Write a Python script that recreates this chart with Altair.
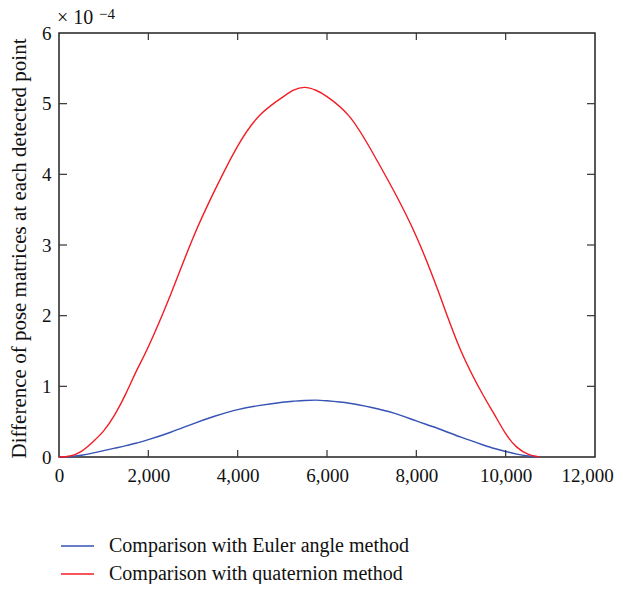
import altair as alt
import pandas as pd

# Data (values in units of 1e-4)
x_pts = [0, 250, 500, 750, 1000, 1250, 1500, 1750, 2000, 2500, 3000, 3500, 4000, 4500,
         5000, 5250, 5500, 5750, 6000, 6500, 7000, 7500, 8000, 8500, 9000, 9500, 9750,
         10000, 10250, 10500, 10750]
euler = [0, 0.006, 0.025, 0.055, 0.09, 0.125, 0.16, 0.2, 0.245, 0.35, 0.47, 0.58, 0.67, 0.73,
         0.775, 0.79, 0.80, 0.805, 0.795, 0.76, 0.70, 0.62, 0.51, 0.40, 0.28, 0.17, 0.12,
         0.078, 0.04, 0.015, 0]
quat = [0, 0.015, 0.08, 0.21, 0.37, 0.6, 0.9, 1.24, 1.56, 2.3, 3.1, 3.79, 4.40, 4.84,
        5.09, 5.19, 5.23, 5.19, 5.1, 4.82, 4.33, 3.76, 3.12, 2.33, 1.50, 0.87, 0.6,
        0.33, 0.14, 0.04, 0]

series_names = ["Comparison with Euler angle method", "Comparison with quaternion method"]
series_colors = ["#3552b4", "#f21c24"]

x_ticks = [0, 2000, 4000, 6000, 8000, 10000, 12000]
y_ticks = [0, 1, 2, 3, 4, 5, 6]

rows = []
for xv, e, q in zip(x_pts, euler, quat):
    rows.append({"x": xv, "y": e, "series": series_names[0]})
    rows.append({"x": xv, "y": q, "series": series_names[1]})
df = pd.DataFrame(rows)

FONT = "Liberation Serif"
W, H = 536, 424

xscale = alt.Scale(domain=[0, 12000], nice=False, zero=False)
yscale = alt.Scale(domain=[0, 6], nice=False)

xaxis = alt.Axis(values=x_ticks, format=",d", title="Detected points",
                 ticks=False, domain=False, grid=False, labelPadding=9, labelFlush=False,
                 labelOffset=alt.ConditionalAxisNumber(
                     condition={"test": "datum.value >= 12000", "value": -8}, value=0),
                 titleX=W / 2, titleY=472, titleBaseline="middle", titleAlign="center")
yaxis = alt.Axis(values=y_ticks, format="d",
                 title="Difference of pose matrices at each detected point",
                 ticks=False, domain=False, grid=False, labelPadding=8, labelFlush=False,
                 titleX=-40, titleY=H / 2 + 3, titleBaseline="middle",
                 titleAlign="center", titleAngle=270)

lines = alt.Chart(df).mark_line(strokeWidth=1.4, interpolate="natural").encode(
    x=alt.X("x:Q", scale=xscale, axis=xaxis),
    y=alt.Y("y:Q", scale=yscale, axis=yaxis),
    color=alt.Color("series:N",
                    scale=alt.Scale(domain=series_names, range=series_colors),
                    legend=alt.Legend(title=None, orient="none", legendX=1, legendY=503,
                                      symbolType="M-1,0L1,0", symbolSize=1089,
                                      symbolStrokeWidth=1.4, labelOffset=14,
                                      clipHeight=20, rowPadding=8, labelLimit=0,
                                      labelFontSize=20, labelFont=FONT,
                                      labelColor="#111")),
)

xt = pd.DataFrame({"x": x_ticks[1:-1]})
yt = pd.DataFrame({"y": y_ticks[1:-1]})
tick_color = "#333"
bottom_ticks = alt.Chart(xt).mark_rule(color=tick_color, strokeWidth=1.2).encode(
    x=alt.X("x:Q", scale=xscale, axis=xaxis), y=alt.value(H), y2=alt.value(H - 7))
top_ticks = alt.Chart(xt).mark_rule(color=tick_color, strokeWidth=1.2).encode(
    x=alt.X("x:Q", scale=xscale, axis=xaxis), y=alt.value(0), y2=alt.value(7))
left_ticks = alt.Chart(yt).mark_rule(color=tick_color, strokeWidth=1.2).encode(
    y=alt.Y("y:Q", scale=yscale, axis=yaxis), x=alt.value(0), x2=alt.value(8))
right_ticks = alt.Chart(yt).mark_rule(color=tick_color, strokeWidth=1.2).encode(
    y=alt.Y("y:Q", scale=yscale, axis=yaxis), x=alt.value(W), x2=alt.value(W - 8))

mult = alt.Chart(pd.DataFrame({"t": ["× 10"]})).mark_text(
    font=FONT, fontSize=20, align="left", baseline="alphabetic", color="#111").encode(
    x=alt.value(-2), y=alt.value(-9), text="t:N")
expo = alt.Chart(pd.DataFrame({"t": ["−4"]})).mark_text(
    font=FONT, fontSize=15, align="left", baseline="alphabetic", color="#111").encode(
    x=alt.value(40), y=alt.value(-14), text="t:N")

chart = alt.layer(lines, bottom_ticks, top_ticks, left_ticks, right_ticks, mult, expo).properties(
    width=W, height=H,
    autosize="none",
    padding={"left": 51, "top": 25, "right": 20, "bottom": 127},
).configure_view(stroke="#222", strokeWidth=1.5).configure_axis(
    labelFont=FONT, titleFont=FONT, labelFontSize=19, titleFontSize=21,
    labelColor="#111", titleColor="#111", titleFontWeight="normal",
)

chart.save("out.html", embed_options={"renderer": "svg", "actions": False})
